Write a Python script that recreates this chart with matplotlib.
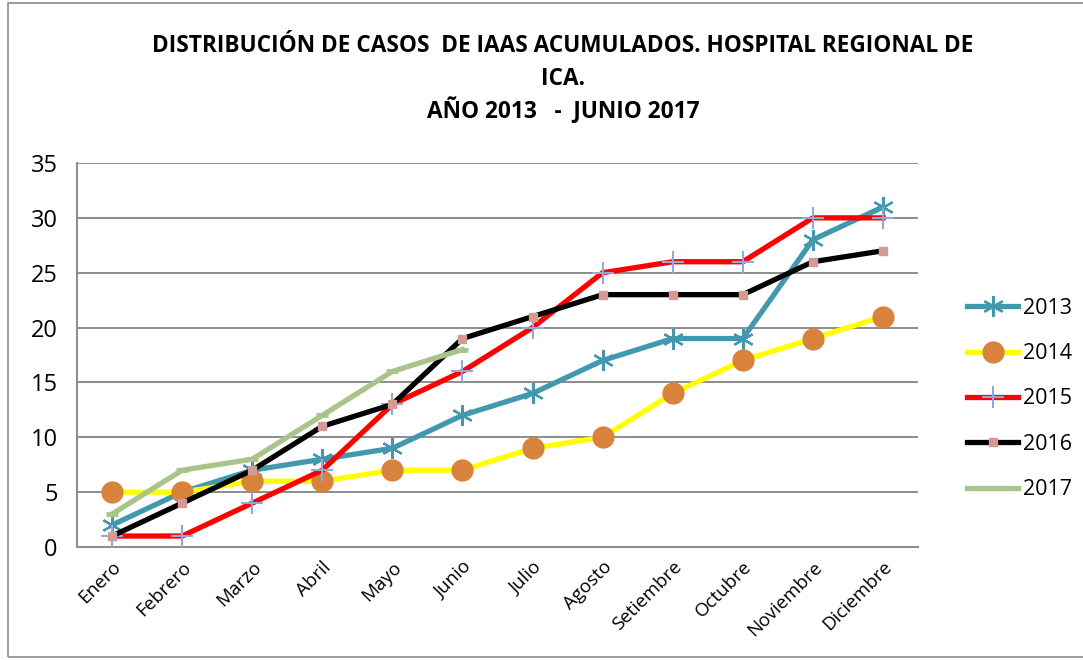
import matplotlib.pyplot as plt
from matplotlib.patches import Rectangle

meses = ["Enero", "Febrero", "Marzo", "Abril", "Mayo", "Junio", "Julio",
         "Agosto", "Setiembre", "Octubre", "Noviembre", "Diciembre"]
y2013 = [2, 5, 7, 8, 9, 12, 14, 17, 19, 19, 28, 31]
y2014 = [5, 5, 6, 6, 7, 7, 9, 10, 14, 17, 19, 21]
y2015 = [1, 1, 4, 7, 13, 16, 20, 25, 26, 26, 30, 30]
y2016 = [1, 4, 7, 11, 13, 19, 21, 23, 23, 23, 26, 27]
y2017 = [3, 7, 8, 12, 16, 18]

plt.rcParams['font.family'] = ['Open Sans', 'DejaVu Sans']

fig = plt.figure(figsize=(10.83, 6.6), dpi=100)
ax = fig.add_axes([77 / 1083, 1 - 547 / 660, (918 - 77) / 1083, (547 - 163) / 660])

x = list(range(len(meses)))
lw = 3.8
ax.plot(x, y2013, color="#4198AF", lw=lw, marker=(6, 2, 0), ms=15, mew=1.6,
        mec="#4198AF", label="2013", zorder=3)
ax.plot(x, y2014, color="#FFFF00", lw=lw, marker="o", ms=15, mfc="#D9823B",
        mec="#D9823B", label="2014", zorder=3)
ax.plot(x, y2015, color="#FF0000", lw=lw, marker="+", ms=16, mew=1.5,
        mec="#8EA9DB", label="2015", zorder=3)
ax.plot(x, y2016, color="#000000", lw=lw, marker="s", ms=5.5, mfc="#D39A96",
        mec="#D39A96", label="2016", zorder=3)
ax.plot(x[:len(y2017)], y2017, color="#A9C48A", lw=lw, marker="_", ms=9,
        mew=3.5, mec="#A9C48A", label="2017", zorder=3)

ax.set_xlim(-0.5, 11.5)
ax.set_ylim(0, 35)
ax.set_yticks(range(0, 36, 5))
ax.set_xticks(x)
ax.set_xticklabels(meses, rotation=45, ha="right", rotation_mode="anchor", fontsize=13.5)
ax.tick_params(axis="y", labelsize=17, length=0, pad=14)
ax.tick_params(axis="x", length=0, pad=8)
ax.grid(axis="y", color="#8C8C8C", lw=1.4)
ax.set_axisbelow(True)
for s in ["top", "right"]:
    ax.spines[s].set_color("none")
for s in ["left", "bottom"]:
    ax.spines[s].set_color("#8C8C8C")
    ax.spines[s].set_linewidth(1.4)

ax.legend(loc="center left", bbox_to_anchor=(1.035, (547 - 399) / 384), frameon=False,
          fontsize=15.5, handlelength=2.4, labelspacing=1.13, handletextpad=0.2,
          numpoints=1)

fig.text(0.52, 1 - 46 / 660, "DISTRIBUCIÓN DE CASOS  DE IAAS ACUMULADOS. HOSPITAL REGIONAL DE",
         ha="center", va="center", fontsize=16.3, fontweight="bold")
fig.text(0.52, 1 - 79 / 660, "ICA.", ha="center", va="center", fontsize=16.3, fontweight="bold")
fig.text(0.52, 1 - 111 / 660, "AÑO 2013   -  JUNIO 2017", ha="center", va="center",
         fontsize=16.3, fontweight="bold")

fig.patches.append(Rectangle((8 / 1083, 0.005), 1.2, 0.99, transform=fig.transFigure,
                             fill=False, edgecolor="#8C8C8C", lw=1.2))

fig.savefig("out.png", dpi=100)
